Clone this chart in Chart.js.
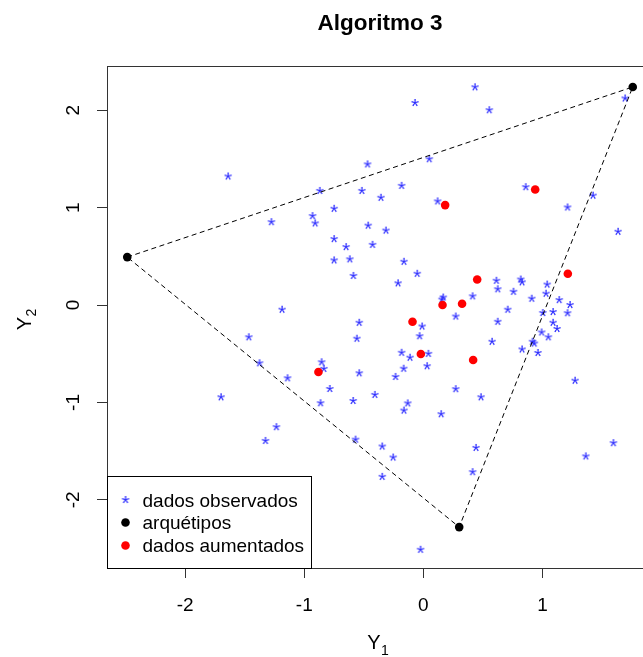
<!DOCTYPE html>
<html>
<head>
<meta charset="utf-8">
<title>Algoritmo 3</title>
<script src="https://cdn.jsdelivr.net/npm/chart.js@4.4.1/dist/chart.umd.min.js"></script>
<style>
  html, body { margin: 0; padding: 0; background: #fff; overflow: hidden; }
  #wrap { width: 660px; height: 657px; }
</style>
</head>
<body>
<div id="wrap"><canvas id="mycanvas" width="660" height="657"></canvas></div>
<script>
// observed data (Y1, Y2)
const obsX = [
  -1.640, -0.469, -0.870, -0.517, -0.750, -0.931, -1.276, -0.909, -0.464, -0.750,
  -0.649, -0.618, -0.750, -0.588, -1.187, 0.433, -0.071, 0.553, 1.693, 0.049,
  -0.183, -0.357, 0.119, 0.859, 1.424, 1.210, 1.634, -0.315, -0.427, -0.164,
  -0.052, -0.213, 0.613, 0.624, 0.817, 0.828, 0.756, 1.039, 1.029, 0.413,
  0.909, 1.140, 1.231, 0.166, 0.155, 0.708, 1.088, 1.210, 1.002, 0.271,
  -0.011, 0.624, 1.088, 1.122, 0.992, 1.049, -0.032, 0.576, 0.916, 0.931,
  0.828, 0.961, -0.183, 0.042, -0.113, 0.031, -0.166, -0.234, 1.273, 0.271,
  0.483, -0.408, -0.132, -0.164, 0.149, -0.346, -0.254, -0.346, 0.441, 0.413,
  1.595, 1.363, -0.024, -0.539, -1.466, -0.559, -0.855, -0.836, -1.376, -0.539,
  -1.141, -0.786, -1.699, -0.864, -0.590, -1.234, -1.326, -0.570
];
const obsY = [
  1.320, 1.444, 1.172, 1.172, 0.988, 0.913, 0.851, 0.838, 0.815, 0.677,
  0.595, 0.469, 0.458, 0.299, -0.048, 2.236, 2.075, 2.000, 2.121, 1.497,
  1.224, 1.101, 1.064, 1.210, 1.123, 1.002, 0.752, 0.764, 0.618, 0.444,
  0.321, 0.223, 0.249, 0.162, 0.262, 0.233, 0.136, 0.210, 0.116, 0.089,
  0.065, 0.051, 0.000, 0.077, 0.056, -0.048, -0.072, -0.084, -0.082, -0.118,
  -0.221, -0.172, -0.182, -0.246, -0.282, -0.331, -0.320, -0.377, -0.377, -0.395,
  -0.456, -0.492, -0.490, -0.501, -0.541, -0.628, -0.654, -0.738, -0.777, -0.864,
  -0.947, -0.923, -1.010, -1.084, -1.121, -1.453, -1.566, -1.764, -1.467, -1.716,
  -1.418, -1.554, -2.513, -0.182, -0.331, -0.346, -0.588, -0.656, -0.598, -0.701,
  -0.752, -0.862, -0.947, -1.008, -0.985, -1.254, -1.395, -1.382
];

// archetypes (triangle vertices)
const archX = [-2.486, 1.758, 0.301];
const archY = [0.492, 2.239, -2.280];

// augmented data
const augX = [0.183, 0.939, 1.213, 0.452, 0.161, 0.325, -0.091, -0.021, 0.418, -0.881];
const augY = [1.026, 1.187, 0.321, 0.262, 0.000, 0.013, -0.171, -0.503, -0.564, -0.687];

const xTicks = [-2, -1, 0, 1];
const yTicks = [-2, -1, 0, 1, 2];
const xRange = [-2.656, 1.928];
const yRange = [-2.70, 2.444];

const legendLabels = ["dados observados", "arquétipos", "dados aumentados"];
const titleText = "Algoritmo 3";

const FONT = '"Liberation Sans", Arial, sans-serif';
const STAR_COLOR = "#2d2dff";

function toPoints(xs, ys) {
  return xs.map((x, i) => ({ x: x, y: ys[i] }));
}

// asterisk glyph used as the point marker
function makeStar() {
  const c = document.createElement("canvas");
  c.width = 14;
  c.height = 14;
  const g = c.getContext("2d");
  g.font = "21px " + FONT;
  g.fillStyle = STAR_COLOR;
  g.textAlign = "center";
  g.textBaseline = "alphabetic";
  const m = g.measureText("*");
  const asc = m.actualBoundingBoxAscent, desc = m.actualBoundingBoxDescent;
  g.fillText("*", 7, 7 + (asc - desc) / 2);
  return c;
}
const starImg = makeStar();

const trianglePts = toPoints(archX.concat(archX[0]), archY.concat(archY[0]));

// R-style frame, tick labels, axis titles and legend
const rDecor = {
  id: "rDecor",
  afterDraw(chart) {
    const ctx = chart.ctx;
    const ca = chart.chartArea;
    const xs = chart.scales.x, ys = chart.scales.y;
    ctx.save();

    ctx.strokeStyle = "#333";
    ctx.lineWidth = 1;
    ctx.strokeRect(Math.round(ca.left) + 0.5, Math.round(ca.top) - 0.5,
      Math.round(ca.right - ca.left), Math.round(ca.bottom - ca.top) + 1);

    ctx.fillStyle = "#000";
    ctx.font = "19px " + FONT;
    ctx.textAlign = "center";
    ctx.textBaseline = "alphabetic";
    xs.ticks.forEach(t => {
      ctx.fillText(String(t.value), xs.getPixelForValue(t.value), 611);
    });
    yTicks.forEach(v => {
      ctx.save();
      ctx.translate(79, ys.getPixelForValue(v));
      ctx.rotate(-Math.PI / 2);
      ctx.fillText(String(v), 0, 0);
      ctx.restore();
    });

    // axis titles with subscripts
    const cx = (ca.left + ca.right) / 2;
    const cy = (ca.top + ca.bottom) / 2;
    ctx.font = "20px " + FONT;
    ctx.textAlign = "center";
    ctx.fillText("Y", cx - 6, 649);
    ctx.font = "14px " + FONT;
    ctx.fillText("1", cx + 5, 655);

    ctx.save();
    ctx.translate(31, cy + 6);
    ctx.rotate(-Math.PI / 2);
    ctx.font = "20px " + FONT;
    ctx.fillText("Y", 0, 0);
    ctx.font = "14px " + FONT;
    ctx.fillText("2", 11, 5);
    ctx.restore();

    // title
    ctx.font = "bold 22.5px " + FONT;
    ctx.fillText(titleText, cx, 29.5);

    // legend (bottom left)
    const lx = Math.round(ca.left) + 0.5, lb = Math.round(ca.bottom) + 0.5;
    const lw = 204, lh = 92;
    ctx.fillStyle = "#fff";
    ctx.fillRect(lx, lb - lh, lw, lh);
    ctx.strokeStyle = "#000";
    ctx.strokeRect(lx, lb - lh, lw, lh);
    const rows = [500, 522.5, 545.5];
    const sx = lx + 18;
    ctx.drawImage(starImg, sx - 7, rows[0] - 7);
    ctx.fillStyle = "#000";
    ctx.beginPath(); ctx.arc(sx, rows[1], 4.3, 0, Math.PI * 2); ctx.fill();
    ctx.fillStyle = "#ff0000";
    ctx.beginPath(); ctx.arc(sx, rows[2], 4.3, 0, Math.PI * 2); ctx.fill();
    ctx.fillStyle = "#000";
    ctx.font = "19px " + FONT;
    ctx.textAlign = "left";
    legendLabels.forEach((s, i) => ctx.fillText(s, lx + 35, rows[i] + 6.5));

    ctx.restore();
  }
};

const scaleBase = {
  type: "linear",
  ticks: { display: false },
  grid: { drawOnChartArea: false, drawTicks: true, tickLength: 10, color: "#333", lineWidth: 1 },
  border: { display: false }
};

const myChart = new Chart(document.getElementById("mycanvas"), {
  type: "scatter",
  data: {
    datasets: [
      {
        label: legendLabels[2],
        data: toPoints(augX, augY),
        pointStyle: "circle",
        pointRadius: 4.3,
        backgroundColor: "#ff0000",
        borderColor: "#ff0000",
        borderWidth: 0,
        order: 1
      },
      {
        label: legendLabels[1],
        data: toPoints(archX, archY),
        pointStyle: "circle",
        pointRadius: 4.3,
        backgroundColor: "#000",
        borderColor: "#000",
        borderWidth: 0,
        order: 2
      },
      {
        type: "line",
        label: "",
        data: trianglePts,
        showLine: true,
        fill: false,
        tension: 0,
        borderColor: "#000",
        borderWidth: 1,
        borderDash: [5, 3.5],
        pointRadius: 0,
        order: 3
      },
      {
        label: legendLabels[0],
        data: toPoints(obsX, obsY),
        pointStyle: starImg,
        pointRadius: 4,
        order: 4
      }
    ]
  },
  options: {
    responsive: false,
    animation: false,
    events: [],
    layout: { padding: { left: 0, top: 67, right: 7, bottom: 0 } },
    plugins: {
      legend: { display: false },
      title: { display: false },
      tooltip: { enabled: false }
    },
    scales: {
      x: Object.assign({}, scaleBase, {
        position: "bottom",
        min: xRange[0],
        max: xRange[1],
        afterBuildTicks: s => { s.ticks = xTicks.map(v => ({ value: v })); },
        afterFit: s => { s.height = 89; }
      }),
      y: Object.assign({}, scaleBase, {
        position: "left",
        min: yRange[0],
        max: yRange[1],
        afterBuildTicks: s => { s.ticks = yTicks.map(v => ({ value: v })); },
        afterFit: s => { s.width = 107; }
      })
    }
  },
  plugins: [rDecor]
});
</script>
</body>
</html>
